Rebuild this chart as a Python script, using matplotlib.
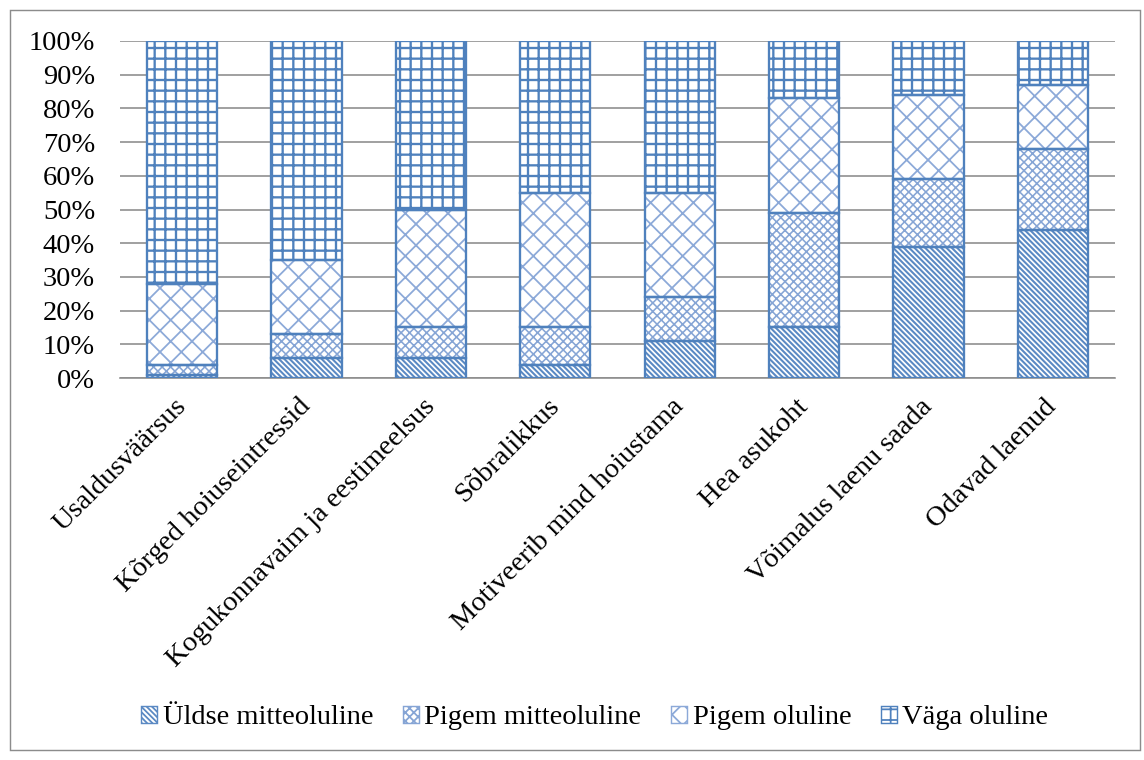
import matplotlib
matplotlib.use("Agg")
import matplotlib.pyplot as plt
from matplotlib.patches import Patch, Rectangle
import numpy as np

categories = [
    "Usaldusväärsus",
    "Kõrged hoiuseintressid",
    "Kogukonnavaim ja eestimeelsus",
    "Sõbralikkus",
    "Motiveerib mind hoiustama",
    "Hea asukoht",
    "Võimalus laenu saada",
    "Odavad laenud",
]
series_names = ["Üldse mitteoluline", "Pigem mitteoluline", "Pigem oluline", "Väga oluline"]
uldse_mitteoluline = [1, 6, 6, 4, 11, 15, 39, 44]
pigem_mitteoluline = [3, 7, 9, 11, 13, 34, 20, 24]
pigem_oluline = [24, 22, 35, 40, 31, 34, 25, 19]
vaga_oluline = [72, 65, 50, 45, 45, 17, 16, 13]
y_ticks = [0, 10, 20, 30, 40, 50, 60, 70, 80, 90, 100]

series = [uldse_mitteoluline, pigem_mitteoluline, pigem_oluline, vaga_oluline]
hatches = ["\\" * 8, "xxxxx", "xx", "++"]
hatch_colors = ["#5A89C3", "#86A5D5", "#8CA9D8", "#4F81BD"]
hatch_widths = [1.15, 0.9, 1.0, 1.3]
edge = "#4F81BD"

DPI = 128
FS = 16
plt.rcParams["font.family"] = ["Liberation Serif", "DejaVu Serif"]
fig = plt.figure(figsize=(1144 / DPI, 760 / DPI), dpi=DPI)
ax = fig.add_axes([120 / 1144, 382 / 760, 995 / 1144, 337 / 760])

x = np.arange(len(categories))
width = 0.565
bottom = np.zeros(len(categories))
for vals, h, hc, hw in zip(series, hatches, hatch_colors, hatch_widths):
    with plt.rc_context({"hatch.linewidth": hw}):
        ax.bar(x, vals, width, bottom=bottom, facecolor="white", edgecolor=hc,
               hatch=h, linewidth=0, zorder=2)
    ax.bar(x, vals, width, bottom=bottom, facecolor="none", edgecolor=edge,
           linewidth=1.3, zorder=3)
    bottom += np.array(vals)

ax.set_xlim(-0.5, len(categories) - 0.5)
ax.set_ylim(0, 100)
ax.set_yticks(y_ticks)
ax.set_yticklabels([f"{t}%" for t in y_ticks], fontsize=FS)
ax.yaxis.grid(True, color="#8C8C8C", linewidth=0.9, zorder=0)
ax.set_axisbelow(True)
ax.tick_params(axis="y", length=0, pad=14)
for s in ["top", "right", "left"]:
    ax.spines[s].set_visible(False)
ax.spines["bottom"].set_color("#8C8C8C")
ax.spines["bottom"].set_linewidth(0.9)

ax.set_xticks(x)
ax.set_xticklabels(categories, fontsize=FS, rotation=45, ha="right",
                   va="center", rotation_mode="anchor")
ax.tick_params(axis="x", length=0, pad=14)
for lbl in ax.get_xticklabels():
    lbl.set_x(lbl.get_position()[0])

handles = []
for name, h, hc, hw in zip(series_names, hatches, hatch_colors, hatch_widths):
    with plt.rc_context({"hatch.linewidth": hw}):
        handles.append(Patch(facecolor="white", edgecolor=hc, hatch=h,
                             linewidth=0.8, label=name))
fig.legend(handles=handles, loc="center", bbox_to_anchor=(0.52, 1 - 718 / 760),
           ncol=4, frameon=False, fontsize=FS, handlelength=0.55,
           handleheight=0.55, handletextpad=0.2, columnspacing=1.05)

fig.add_artist(Rectangle((10 / 1144, 10 / 760), 1130 / 1144, 740 / 760,
                         transform=fig.transFigure, fill=False,
                         edgecolor="#8C8C8C", linewidth=0.8))

fig.savefig("out.png", dpi=DPI, facecolor="white")
